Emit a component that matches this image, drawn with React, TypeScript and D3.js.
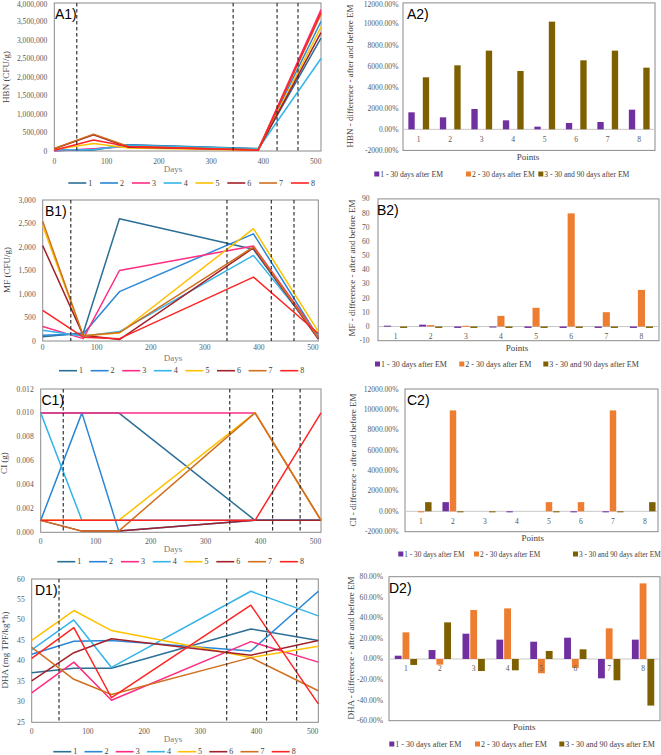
import React from 'react';
import * as d3 from 'd3';

// Sampling days shared by all time-series panels
const days = [0, 75, 142, 390, 510];
const pointNames = ['1', '2', '3', '4', '5', '6', '7', '8'];
const lineColors = ['#2b6f96', '#2a86d6', '#ff2d82', '#35b4e8', '#ffc000', '#a3212b', '#d0701f', '#ff2424'];

// HBN (CFU/g) per sampling point
const hbnValues = [
  [20000, 30000, 170000, 65000, 3050000],
  [10000, 50000, 160000, 55000, 3500000],
  [10000, 60000, 120000, 40000, 3820000],
  [30000, 40000, 150000, 60000, 2500000],
  [40000, 205000, 80000, 20000, 3350000],
  [60000, 440000, 100000, 30000, 3200000],
  [70000, 455000, 125000, 30000, 3700000],
  [20000, 295000, 120000, 20000, 3750000],
];
// MF (CFU/g)
const mfValues = [
  [90, 170, 2600, 1950, 50],
  [120, 150, 1050, 2280, 80],
  [310, 50, 1500, 2020, 100],
  [230, 100, 200, 1820, 120],
  [2450, 110, 170, 2390, 200],
  [2030, 120, 30, 1980, 40],
  [2550, 110, 180, 2000, 70],
  [650, 80, 50, 1360, 160],
];
// CI (g)
const ciValues = [
  [0.01, 0.01, 0.01, 0.001, 0.001],
  [0.001, 0.01, 0.0001, 0.001, 0.001],
  [0.01, 0.01, 0.01, 0.01, 0.001],
  [0.01, 0.001, 0.001, 0.001, 0.001],
  [0.001, 0.001, 0.001, 0.01, 0.001],
  [0.001, 0.0001, 0.0001, 0.001, 0.001],
  [0.001, 0.0001, 0.0001, 0.01, 0.001],
  [0.001, 0.001, 0.001, 0.001, 0.01],
];
// DHA (mg TPF/kg*h)
const dhaValues = [
  [37.1, 38.2, 38.2, 47.8, 45.0],
  [41.6, 44.8, 45.0, 42.4, 57.0],
  [32.2, 39.7, 30.4, 44.7, 39.7],
  [42.7, 50.0, 38.4, 57.0, 51.0],
  [45.0, 52.3, 47.4, 40.8, 43.6],
  [35.1, 42.0, 45.4, 41.4, 45.0],
  [43.3, 35.5, 31.8, 40.8, 32.7],
  [40.6, 48.1, 31.0, 53.6, 29.5],
];

// Differences after and before EM
const barSeriesNames = ['1 - 30 days after EM', '2 - 30 days after EM', '3 - 30 and 90 days after EM'];
const barColors = ['#7030a0', '#ed7d31', '#7f6000'];

const hbnDiff1 = [1614, 1139, 1930, 854, 253, 601, 696, 1867];
const hbnDiff2 = [0, 0, 0, 0, 0, 0, 0, 0];
const hbnDiff3 = [4937, 6076, 7468, 5538, 10222, 6551, 7468, 5854];

const mfDiff1 = [0.6, 1.3, -1, -0.5, -1, -1, -1, -1];
const mfDiff2 = [0, 1, 0.5, 7.5, 13.2, 79.8, 10.1, 25.8];
const mfDiff3 = [-1, -1, -1, -1, -1, -1, -1, -1];

const ciDiff1 = [0, 900, 0, -100, 0, -100, -100, 0];
const ciDiff2 = [-100, 9900, 0, 0, 900, 900, 9900, 0];
const ciDiff3 = [900, -100, -100, 0, -100, 0, -100, 900];

const dhaDiff1 = [3.2, 8.7, 24.6, 18.8, 16.8, 20.7, -18.8, 18.8];
const dhaDiff2 = [25.9, -5.5, 47.6, 49.2, -13.9, -8.7, 29.8, 73.5];
const dhaDiff3 = [-5.8, 35.6, -11.7, -11.0, 7.8, 9.4, -20.7, -45.3];

// Axis ticks
const dayTicks = [0, 100, 200, 300, 400, 500];
const hbnTicks = [0, 500000, 1000000, 1500000, 2000000, 2500000, 3000000, 3500000, 4000000];
const mfTicks = [0, 500, 1000, 1500, 2000, 2500, 3000];
const ciTicks = [0, 0.002, 0.004, 0.006, 0.008, 0.01, 0.012];
const dhaTicks = [25, 30, 35, 40, 45, 50, 55, 60];
const pctTicksWide = [-2000, 0, 2000, 4000, 6000, 8000, 10000, 12000];
const mfDiffTicks = [-10, 0, 10, 20, 30, 40, 50, 60, 70, 80, 90];
const dhaDiffTicks = [-60, -40, -20, 0, 20, 40, 60, 80];

const SERIF = "'Liberation Serif', 'Times New Roman', serif";
const SANS = "'Liberation Sans', Arial, sans-serif";
const TICK = '#595959';
const FRAME = '#8a8a8a';

const fmtComma = d3.format(',');
const fmtPct = (v: number) => `${v.toFixed(2)}%`;
// keep the topmost tick label inside the drawing
const labelY = (v: number) => Math.max(v, 4);

type LineProps = {
  x0: number; x1: number; yTop: number; yBot: number;
  yDomain: [number, number]; yTicks: number[]; fmt: (v: number) => string;
  values: number[][]; dashes: number[];
  ylab: string; ylabX: number; ylabY: number;
  tag: string; tagX: number; tagY: number;
  tickY: number; daysY: number; legendY: number; legendX: number; legendStep: number;
};

function LinePanel(p: LineProps) {
  const x = d3.scaleLinear().domain([0, 510]).range([p.x0, p.x1]);
  const y = d3.scaleLinear().domain(p.yDomain).range([p.yBot, p.yTop]);
  const line = d3.line<number>().x((_, i) => x(days[i])).y((v) => y(v));
  return (
    <g>
      <rect x={p.x0} y={p.yTop} width={p.x1 - p.x0} height={p.yBot - p.yTop} fill="#fff" stroke={FRAME} strokeWidth={1} />
      {p.yTicks.map((t) => (
        <text key={t} x={p.x0 - 7} y={labelY(y(t))} textAnchor="end" dominantBaseline="central" fontFamily={SERIF} fontSize={7.6} fill={TICK}>{p.fmt(t)}</text>
      ))}
      {dayTicks.map((t) => (
        <text key={t} x={x(t)} y={p.tickY} textAnchor="middle" dominantBaseline="central" fontFamily={SERIF} fontSize={7.6} fill={TICK}>{t}</text>
      ))}
      <text x={173} y={p.daysY} textAnchor="middle" dominantBaseline="central" fontFamily={SERIF} fontSize={9} fill="#7a7a7a">Days</text>
      <text transform={`translate(${p.ylabX},${p.ylabY}) rotate(-90)`} textAnchor="middle" dominantBaseline="central" fontFamily={SERIF} fontSize={9} fill="#404040">{p.ylab}</text>
      {p.values.map((vals, i) => (
        <path key={i} d={line(vals) || ''} fill="none" stroke={lineColors[i]} strokeWidth={1.5} strokeLinejoin="round" />
      ))}
      {p.dashes.map((d) => (
        <line key={d} x1={x(d)} x2={x(d)} y1={p.yTop} y2={p.yBot} stroke="#222" strokeWidth={1.1} strokeDasharray="3.5,2.5" />
      ))}
      <text x={p.tagX} y={p.tagY} fontFamily={SANS} fontSize={14} fill="#000">{p.tag}</text>
      {pointNames.map((n, i) => {
        const lx = p.legendX + i * p.legendStep;
        return (
          <g key={n}>
            <line x1={lx} x2={lx + 18} y1={p.legendY} y2={p.legendY} stroke={lineColors[i]} strokeWidth={1.6} />
            <text x={lx + 20} y={p.legendY} dominantBaseline="central" fontFamily={SERIF} fontSize={8} fill="#404040">{n}</text>
          </g>
        );
      })}
    </g>
  );
}

type BarProps = {
  x0: number; x1: number; yTop: number; yBot: number; frameRight: number;
  yDomain: [number, number]; yTicks: number[]; fmt: (v: number) => string; tickGap: number;
  series: number[][];
  ylab: string; ylabX: number; ylabY: number;
  tag: string; tagX: number; tagY: number;
  pointsX: number; pointsY: number; legendY: number; legendXs: number[]; legendSize: number;
};

function BarPanel(p: BarProps) {
  const xb = d3.scaleBand<string>().domain(pointNames).range([p.x0, p.x1]).padding(0);
  const step = xb.step();
  const inner = d3.scaleBand<number>().domain([0, 1, 2]).range([-step * 0.33, step * 0.33]).paddingInner(0.12);
  const y = d3.scaleLinear().domain(p.yDomain).range([p.yBot, p.yTop]);
  return (
    <g>
      <rect x={p.x0} y={p.yTop} width={p.frameRight - p.x0} height={p.yBot - p.yTop} fill="#fff" stroke={FRAME} strokeWidth={1} />
      <line x1={p.x0} x2={p.frameRight} y1={y(0)} y2={y(0)} stroke="#c8c8c8" strokeWidth={1} />
      {p.yTicks.map((t) => (
        <text key={t} x={p.x0 - p.tickGap} y={labelY(y(t))} textAnchor="end" dominantBaseline="central" fontFamily={SERIF} fontSize={7.6} fill={TICK}>{p.fmt(t)}</text>
      ))}
      {p.series.map((vals, s) =>
        vals.map((v, i) => {
          if (v === 0) return null;
          const cx = (xb(pointNames[i]) as number) + step / 2;
          const bx = cx + (inner(s) as number);
          return (
            <rect key={`${s}-${i}`} x={bx} width={inner.bandwidth()} y={Math.min(y(v), y(0))} height={Math.max(1, Math.abs(y(v) - y(0)))} fill={barColors[s]} />
          );
        })
      )}
      {pointNames.map((n) => (
        <text key={n} x={(xb(n) as number) + step / 2} y={y(0) + 10} textAnchor="middle" dominantBaseline="central" fontFamily={SERIF} fontSize={7.6} fill={TICK}>{n}</text>
      ))}
      <text x={p.pointsX} y={p.pointsY} textAnchor="middle" dominantBaseline="central" fontFamily={SERIF} fontSize={9} fill="#404040">Points</text>
      <text transform={`translate(${p.ylabX},${p.ylabY}) rotate(-90)`} textAnchor="middle" dominantBaseline="central" fontFamily={SERIF} fontSize={9} fill="#404040">{p.ylab}</text>
      <text x={p.tagX} y={p.tagY} fontFamily={SANS} fontSize={14} fill="#000">{p.tag}</text>
      {barSeriesNames.map((n, i) => (
        <g key={n}>
          <rect x={p.legendXs[i]} y={p.legendY - 2.5} width={5} height={5} fill={barColors[i]} />
          <text x={p.legendXs[i] + 6} y={p.legendY} dominantBaseline="central" fontFamily={SERIF} fontSize={p.legendSize} fill="#404040">{n}</text>
        </g>
      ))}
    </g>
  );
}

export default function App() {
  return (
    <svg width={661} height={755} viewBox="0 0 661 755" style={{ position: 'absolute', left: 0, top: 0, background: '#fff' }}>
      <rect x={0} y={0} width={661} height={755} fill="#fff" />
      <LinePanel x0={54.3} x1={321} yTop={3} yBot={151} yDomain={[0, 4000000]} yTicks={hbnTicks} fmt={fmtComma}
        values={hbnValues} dashes={[43, 342, 426, 466]}
        ylab="HBN (CFU/g)" ylabX={6} ylabY={77} tag="A1)" tagX={55} tagY={19}
        tickY={161} daysY={168.5} legendY={183} legendX={68.3} legendStep={31.8} />
      <LinePanel x0={42.7} x1={318.3} yTop={200} yBot={341} yDomain={[0, 3000]} yTicks={mfTicks} fmt={fmtComma}
        values={mfValues} dashes={[52, 341, 423, 465]}
        ylab="MF (CFU/g)" ylabX={7} ylabY={270} tag="B1)" tagX={45} tagY={216}
        tickY={347} daysY={357.7} legendY={370.7} legendX={59} legendStep={31.6} />
      <LinePanel x0={40.7} x1={321} yTop={389} yBot={532.3} yDomain={[0, 0.012]} yTicks={ciTicks} fmt={(v) => v.toFixed(3)}
        values={ciValues} dashes={[41, 344, 422, 472]}
        ylab="CI (g)" ylabX={4} ylabY={463} tag="C1)" tagX={41.5} tagY={405}
        tickY={541.7} daysY={548.5} legendY={561.7} legendX={57.3} legendStep={31.8} />
      <LinePanel x0={31.7} x1={318.3} yTop={579} yBot={722.3} yDomain={[25, 60]} yTicks={dhaTicks} fmt={(v) => String(v)}
        values={dhaValues} dashes={[48.6, 347, 418, 471.5]}
        ylab="DHA (mg TPF/kg*h)" ylabX={5} ylabY={650} tag="D1)" tagX={35} tagY={595}
        tickY={731.7} daysY={738.5} legendY={751.7} legendX={53.3} legendStep={31.2} />

      <BarPanel x0={403} x1={655} frameRight={655} yTop={2.9} yBot={150.4} yDomain={[-2000, 12000]} yTicks={pctTicksWide} fmt={fmtPct} tickGap={4.5}
        series={[hbnDiff1, hbnDiff2, hbnDiff3]}
        ylab="HBN - difference - after and before EM" ylabX={350} ylabY={76} tag="A2)" tagX={407} tagY={19}
        pointsX={528} pointsY={157} legendY={174} legendXs={[374.3, 466, 538.3]} legendSize={7.6} />
      <BarPanel x0={378} x1={659} frameRight={659} yTop={198.9} yBot={340.7} yDomain={[-10, 90]} yTicks={mfDiffTicks} fmt={(v) => String(v)} tickGap={8.5}
        series={[mfDiff1, mfDiff2, mfDiff3]}
        ylab="MF - difference - after and before EM" ylabX={351.7} ylabY={268} tag="B2)" tagX={377} tagY={215}
        pointsX={517} pointsY={348.3} legendY={364} legendXs={[375, 459.3, 543.3]} legendSize={8} />
      <BarPanel x0={405} x1={661} frameRight={658} yTop={389} yBot={531.7} yDomain={[-2000, 12000]} yTicks={pctTicksWide} fmt={fmtPct} tickGap={6.5}
        series={[ciDiff1, ciDiff2, ciDiff3]}
        ylab="CI - difference - after and before EM" ylabX={352.7} ylabY={460} tag="C2)" tagX={407} tagY={405}
        pointsX={532.7} pointsY={538.3} legendY={554} legendXs={[398.3, 474, 573]} legendSize={7.3} />
      <BarPanel x0={389} x1={660} frameRight={660} yTop={576.7} yBot={720.7} yDomain={[-60, 80]} yTicks={dhaDiffTicks} fmt={fmtPct} tickGap={6}
        series={[dhaDiff1, dhaDiff2, dhaDiff3]}
        ylab="DHA - difference - after and before EM" ylabX={350.7} ylabY={648} tag="D2)" tagX={389} tagY={593}
        pointsX={524.3} pointsY={727} legendY={744} legendXs={[389.3, 475, 559.3]} legendSize={8} />
    </svg>
  );
}
